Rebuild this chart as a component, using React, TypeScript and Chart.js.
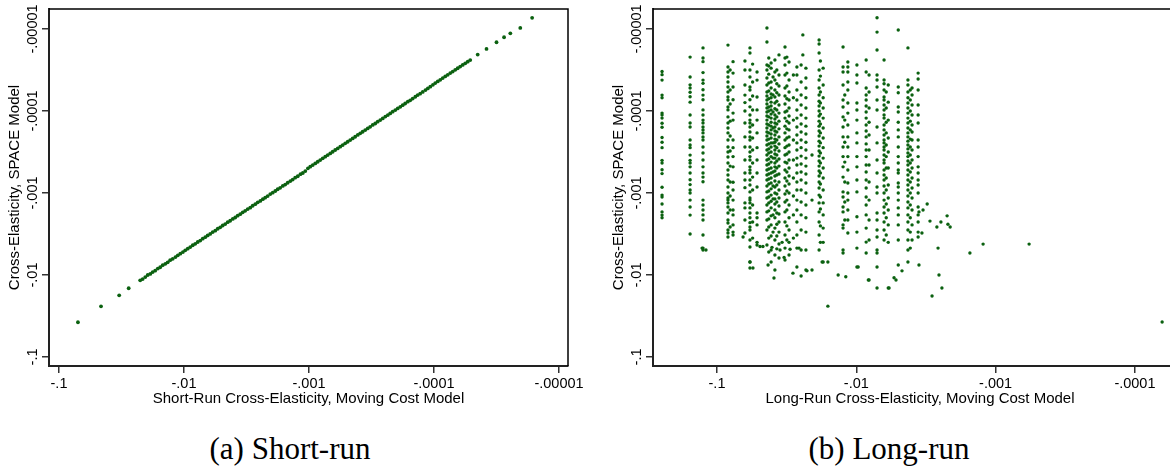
import React, { useEffect, useRef } from 'react';
import { Chart, registerables } from 'chart.js';

Chart.register(...registerables);

// ---------- text ----------
const tickValues = [-0.1, -0.01, -0.001, -0.0001, -0.00001];
const tickLabels = ['-.1', '-.01', '-.001', '-.0001', '-.00001'];
const yTitle = 'Cross-Elasticity, SPACE Model';
const srTitle = 'Short-Run Cross-Elasticity, Moving Cost Model';
const lrTitle = 'Long-Run Cross-Elasticity, Moving Cost Model';
const captions = ['(a) Short-run', '(b) Long-run'];

// ---------- axis ranges ----------
const srXRange = [-0.1202, -8.47e-6];
const lrXRange = [-0.288, -4.23e-5];
const yRange = [-0.1288, -5.7e-6];

// ---------- (a) short-run ----------
const srX = [
  -7.05e-2, -4.61e-2, -3.30e-2, -2.77e-2,
  -2.24e-2, -2.14e-2, -2.04e-2, -1.95e-2, -1.86e-2, -1.78e-2, -1.70e-2, -1.62e-2, -1.55e-2, -1.48e-2,
  -1.41e-2, -1.35e-2, -1.29e-2, -1.23e-2, -1.17e-2, -1.12e-2, -1.07e-2, -1.02e-2,
  -9.77e-3, -9.33e-3, -8.91e-3, -8.51e-3, -8.13e-3, -7.76e-3, -7.41e-3, -7.08e-3, -6.76e-3, -6.46e-3,
  -6.17e-3, -5.89e-3, -5.62e-3, -5.37e-3, -5.13e-3, -4.90e-3, -4.68e-3, -4.47e-3, -4.27e-3, -4.07e-3,
  -3.89e-3, -3.72e-3, -3.55e-3, -3.39e-3, -3.24e-3, -3.09e-3, -2.95e-3, -2.82e-3, -2.69e-3, -2.57e-3,
  -2.45e-3, -2.34e-3, -2.24e-3, -2.14e-3, -2.04e-3, -1.95e-3, -1.86e-3, -1.78e-3, -1.70e-3, -1.62e-3,
  -1.55e-3, -1.48e-3, -1.41e-3, -1.35e-3, -1.29e-3, -1.23e-3, -1.17e-3, -1.12e-3, -1.07e-3, -1.02e-3,
  -9.77e-4, -9.33e-4, -8.91e-4, -8.51e-4, -8.13e-4, -7.76e-4, -7.41e-4, -7.08e-4, -6.76e-4, -6.46e-4,
  -6.17e-4, -5.89e-4, -5.62e-4, -5.37e-4, -5.13e-4, -4.90e-4, -4.68e-4, -4.47e-4, -4.27e-4, -4.07e-4,
  -3.89e-4, -3.72e-4, -3.55e-4, -3.39e-4, -3.24e-4, -3.09e-4, -2.95e-4, -2.82e-4, -2.69e-4, -2.57e-4,
  -2.45e-4, -2.34e-4, -2.24e-4, -2.14e-4, -2.04e-4, -1.95e-4, -1.86e-4, -1.78e-4, -1.70e-4, -1.62e-4,
  -1.55e-4, -1.48e-4, -1.41e-4, -1.35e-4, -1.29e-4, -1.23e-4, -1.17e-4, -1.12e-4, -1.07e-4, -1.02e-4,
  -9.77e-5, -9.33e-5, -8.91e-5, -8.51e-5, -8.13e-5, -7.76e-5, -7.41e-5, -7.08e-5, -6.76e-5, -6.46e-5,
  -6.17e-5, -5.89e-5, -5.62e-5, -5.37e-5, -5.13e-5,
  -4.47e-5, -3.80e-5, -3.16e-5, -2.75e-5, -2.45e-5, -2.04e-5, -1.64e-5,
];
const srY = [
  -3.77e-2, -2.41e-2, -1.77e-2, -1.45e-2,
  -1.16e-2, -1.12e-2, -1.06e-2, -1.00e-2, -9.7e-3, -9.2e-3, -8.85e-3, -8.35e-3, -8.05e-3, -7.6e-3,
  -7.3e-3, -7.0e-3, -6.6e-3, -6.35e-3, -6.05e-3, -5.75e-3, -5.5e-3, -5.25e-3,
  -5.0e-3, -4.77e-3, -4.57e-3, -4.34e-3, -4.17e-3, -3.96e-3, -3.80e-3, -3.61e-3, -3.46e-3, -3.29e-3,
  -3.16e-3, -3.00e-3, -2.88e-3, -2.73e-3, -2.62e-3, -2.49e-3, -2.39e-3, -2.27e-3, -2.18e-3, -2.07e-3,
  -1.99e-3, -1.89e-3, -1.81e-3, -1.72e-3, -1.65e-3, -1.57e-3, -1.51e-3, -1.43e-3, -1.37e-3, -1.30e-3,
  -1.25e-3, -1.19e-3, -1.14e-3, -1.09e-3, -1.03e-3, -9.9e-4, -9.45e-4, -9.0e-4, -8.65e-4, -8.2e-4,
  -7.9e-4, -7.5e-4, -7.15e-4, -6.85e-4, -6.5e-4, -6.25e-4, -5.9e-4, -5.7e-4, -5.4e-4, -5.0e-4,
  -4.78e-4, -4.57e-4, -4.36e-4, -4.16e-4, -3.97e-4, -3.78e-4, -3.61e-4, -3.45e-4, -3.29e-4, -3.14e-4,
  -2.99e-4, -2.86e-4, -2.72e-4, -2.60e-4, -2.48e-4, -2.37e-4, -2.26e-4, -2.16e-4, -2.06e-4, -1.96e-4,
  -1.87e-4, -1.79e-4, -1.71e-4, -1.63e-4, -1.56e-4, -1.48e-4, -1.42e-4, -1.35e-4, -1.29e-4, -1.23e-4,
  -1.17e-4, -1.12e-4, -1.07e-4, -1.02e-4, -9.75e-5, -9.3e-5, -8.9e-5, -8.5e-5, -8.1e-5, -7.7e-5,
  -7.4e-5, -7.05e-5, -6.7e-5, -6.4e-5, -6.15e-5, -5.85e-5, -5.55e-5, -5.3e-5, -5.05e-5, -4.8e-5,
  -4.57e-5, -4.36e-5, -4.16e-5, -3.97e-5, -3.79e-5, -3.62e-5, -3.45e-5, -3.30e-5, -3.15e-5, -3.01e-5,
  -2.87e-5, -2.74e-5, -2.62e-5, -2.50e-5, -2.39e-5,
  -2.05e-5, -1.75e-5, -1.45e-5, -1.26e-5, -1.13e-5, -9.7e-6, -7.3e-6,
];

// ---------- (b) long-run: vertical groups of points ----------
const lrColX = [
  -0.248, -0.156, -0.126, -0.0834, -0.0767, -0.063, -0.058, -0.0516,
  -0.0438, -0.0409, -0.0384, -0.0359, -0.0325, -0.0304, -0.0267, -0.0249,
  -0.023, -0.0208, -0.0185, -0.0173, -0.01245, -0.0115, -0.0099, -0.0085,
  -0.0081, -0.0071, -0.00632, -0.0059, -0.005, -0.00426, -0.00398, -0.0036,
  -0.0425, -0.0372, -0.0315, -0.0396, -0.0181, -0.0041, -0.0061, -0.0805,
  -0.0555, -0.0283, -0.0121,
];
const lrColY = [
  [-3.3e-5, -3.6e-5, -4.2e-5, -6.4e-5, -6.9e-5, -1.06e-4, -1.12e-4, -1.22e-4, -1.41e-4, -1.58e-4, -2.1e-4, -2.4e-4, -2.8e-4, -4.0e-4, -4.3e-4, -5.2e-4, -5.8e-4, -8.5e-4, -1.06e-3, -1.12e-3, -1.36e-3, -1.7e-3, -1.86e-3, -2.0e-3],
  [-2.2e-5, -3.85e-5, -4.8e-5, -5.25e-5, -5.9e-5, -6.7e-5, -7.8e-5, -1.12e-4, -1.4e-4, -1.57e-4, -2.26e-4, -2.6e-4, -2.8e-4, -3.45e-4, -4.0e-4, -4.3e-4, -4.8e-4, -5.7e-4, -6.9e-4, -7.9e-4, -9.2e-4, -1.0e-3, -1.22e-3, -1.48e-3, -1.86e-3, -3.16e-3],
  [-1.7e-5, -2.26e-5, -2.5e-5, -3.4e-5, -4.2e-5, -4.6e-5, -5.5e-5, -6.4e-5, -7.3e-5, -9.7e-5, -1.12e-4, -1.29e-4, -1.4e-4, -1.57e-4, -1.7e-4, -1.85e-4, -2.07e-4, -2.26e-4, -2.75e-4, -3.25e-4, -3.96e-4, -4.8e-4, -5.7e-4, -6.4e-4, -7.3e-4, -1.22e-3, -1.4e-3, -1.61e-3, -1.85e-3, -2.13e-3, -3.25e-3, -4.7e-3, -4.95e-3],
  [-1.57e-5, -2.9e-5, -3.34e-5, -3.85e-5, -4.43e-5, -5.1e-5, -5.87e-5, -6.75e-5, -7.34e-5, -8.94e-5, -9.7e-5, -1.18e-4, -1.4e-4, -1.61e-4, -1.85e-4, -2.26e-4, -2.75e-4, -3.16e-4, -3.64e-4, -4.31e-4, -5.24e-4, -6.03e-4, -6.94e-4, -8.45e-4, -1.0e-3, -1.15e-3, -1.22e-3, -1.32e-3, -1.48e-3, -1.75e-3, -2.13e-3, -2.32e-3, -2.83e-3, -3.07e-3, -3.44e-3],
  [-2.5e-5, -3.45e-5, -5.1e-5, -7.3e-5, -1.06e-4, -1.29e-4, -2.26e-4, -2.8e-4, -3.6e-4, -4.8e-4, -7.4e-4, -9.2e-4, -1.22e-3, -1.61e-3, -1.85e-3, -2.45e-3, -3.0e-3, -3.25e-3],
  [-2.45e-5, -3.16e-5, -4.82e-5, -6.4e-5, -7.9e-5, -1.0e-4, -1.4e-4, -2.07e-4, -2.75e-4, -3.96e-4, -5.7e-4, -6.94e-4, -8.6e-4, -1.32e-3, -1.52e-3, -2.13e-3, -3.07e-3],
  [-1.7e-5, -1.96e-5, -3.16e-5, -3.85e-5, -5.1e-5, -5.54e-5, -7.3e-5, -8.9e-5, -1.12e-4, -1.29e-4, -1.4e-4, -1.57e-4, -1.8e-4, -2.07e-4, -2.26e-4, -2.75e-4, -3.16e-4, -3.6e-4, -3.96e-4, -4.8e-4, -5.24e-4, -5.7e-4, -6.94e-4, -8.0e-4, -9.7e-4, -1.15e-3, -1.22e-3, -1.32e-3, -1.52e-3, -1.75e-3, -2.0e-3, -2.3e-3, -2.6e-3, -2.83e-3, -3.74e-3, -4.55e-3, -6.95e-3, -8.2e-3],
  [-3.35e-5, -4.2e-5, -6.75e-5, -9.7e-5, -1.29e-4, -1.85e-4, -2.8e-4, -3.96e-4, -5.7e-4, -8.45e-4, -1.75e-3, -2.0e-3, -2.45e-3, -4.0e-3, -4.3e-3],
  [-9.7e-6, -1.44e-5, -2.75e-5, -3.16e-5, -3.95e-5, -4.82e-5, -5.87e-5, -6.55e-5, -7.34e-5, -8.2e-5, -9.2e-5, -1.03e-4, -1.15e-4, -1.29e-4, -1.44e-4, -1.61e-4, -1.8e-4, -2.02e-4, -2.26e-4, -2.6e-4, -2.99e-4, -3.44e-4, -3.96e-4, -4.56e-4, -5.24e-4, -6.03e-4, -6.94e-4, -8.2e-4, -9.7e-4, -1.15e-3, -1.4e-3, -1.7e-3, -2.13e-3, -2.83e-3, -4.31e-3],
  [-2.6e-5, -3.0e-5, -4.43e-5, -5.25e-5, -6.2e-5, -6.9e-5, -7.8e-5, -8.7e-5, -9.7e-5, -1.09e-4, -1.22e-4, -1.37e-4, -1.53e-4, -1.7e-4, -1.91e-4, -2.13e-4, -2.45e-4, -2.75e-4, -3.16e-4, -3.6e-4, -4.2e-4, -4.95e-4, -5.7e-4, -6.55e-4, -7.55e-4, -8.9e-4, -1.06e-3, -1.26e-3, -1.52e-3, -1.9e-3, -2.45e-3, -3.35e-3, -4.96e-3, -6.95e-3],
  [-2.39e-5, -3.35e-5, -4.19e-5, -5.54e-5, -6.75e-5, -8.0e-5, -9.4e-5, -1.12e-4, -1.25e-4, -1.4e-4, -1.57e-4, -1.75e-4, -1.96e-4, -2.2e-4, -2.4e-4, -2.68e-4, -2.99e-4, -3.35e-4, -3.75e-4, -4.31e-4, -4.8e-4, -5.4e-4, -6.2e-4, -7.15e-4, -8.45e-4, -1.0e-3, -1.18e-3, -1.36e-3, -1.61e-3, -2.0e-3, -2.68e-3, -3.74e-3, -5.71e-3, -8.7e-3],
  [-2.07e-5, -3.64e-5, -4.95e-5, -6.38e-5, -8.45e-5, -1.06e-4, -1.33e-4, -1.65e-4, -2.07e-4, -2.52e-4, -3.07e-4, -3.85e-4, -4.7e-4, -5.87e-4, -7.34e-4, -9.19e-4, -1.15e-3, -1.44e-3, -1.8e-3, -2.26e-3, -3.0e-3, -4.19e-3, -6.2e-3],
  [-1.66e-5, -2.26e-5, -2.75e-5, -3.64e-5, -5.25e-5, -6.55e-5, -8.2e-5, -1.03e-4, -1.22e-4, -1.53e-4, -1.85e-4, -2.26e-4, -2.8e-4, -3.44e-4, -4.2e-4, -5.24e-4, -6.55e-4, -8.2e-4, -1.03e-3, -1.29e-3, -1.7e-3, -2.26e-3, -3.25e-3, -4.7e-3, -6.57e-3],
  [-2.52e-5, -4.19e-5, -5.87e-5, -7.34e-5, -9.2e-5, -1.15e-4, -1.4e-4, -1.7e-4, -2.07e-4, -2.6e-4, -3.16e-4, -3.96e-4, -4.95e-4, -6.2e-4, -7.75e-4, -1.0e-3, -1.4e-3, -2.0e-3, -2.83e-3, -4.0e-3, -5.71e-3],
  [-2.9e-5, -3.64e-5, -5.54e-5, -7.34e-5, -9.72e-5, -1.22e-4, -1.57e-4, -1.96e-4, -2.45e-4, -2.99e-4, -3.75e-4, -4.56e-4, -5.7e-4, -7.34e-4, -9.19e-4, -1.22e-3, -1.61e-3, -2.26e-3, -3.25e-3, -4.7e-3, -8.0e-3],
  [-2.75e-5, -4.43e-5, -6.38e-5, -8.45e-5, -1.12e-4, -1.44e-4, -1.8e-4, -2.26e-4, -2.8e-4, -3.55e-4, -4.43e-4, -5.55e-4, -6.94e-4, -9.19e-4, -1.29e-3, -1.85e-3, -2.83e-3, -4.96e-3, -1.03e-2],
  [-3.0e-5, -3.95e-5, -5.25e-5, -6.9e-5, -9.2e-5, -1.22e-4, -1.53e-4, -1.91e-4, -2.4e-4, -2.99e-4, -3.75e-4, -4.7e-4, -5.87e-4, -7.55e-4, -1.0e-3, -1.4e-3, -2.0e-3, -3.0e-3, -4.96e-3, -8.7e-3],
  [-3.44e-4, -1.22e-3, -8.7e-3],
  [-1.36e-5, -1.52e-5, -1.96e-5, -3.16e-5, -4.19e-5, -5.25e-5, -6.38e-5, -7.6e-5, -8.7e-5, -1.0e-4, -1.15e-4, -1.33e-4, -1.53e-4, -1.75e-4, -2.02e-4, -2.33e-4, -2.68e-4, -3.07e-4, -3.55e-4, -4.07e-4, -4.7e-4, -5.4e-4, -6.2e-4, -7.34e-4, -8.7e-4, -1.06e-3, -1.32e-3, -1.7e-3, -2.26e-3, -3.25e-3, -4.96e-3],
  [-3.0e-5, -4.82e-5, -6.9e-5, -9.2e-5, -1.22e-4, -1.61e-4, -2.13e-4, -2.8e-4, -3.75e-4, -4.95e-4, -6.55e-4, -9.19e-4, -1.32e-3, -1.85e-3, -2.68e-3, -4.0e-3, -6.95e-3],
  [-1.66e-5, -2.9e-5, -3.35e-5, -4.82e-5, -7.34e-5, -8.95e-5, -1.18e-4, -1.57e-4, -2.07e-4, -2.75e-4, -3.6e-4, -4.8e-4, -6.4e-4, -9.7e-4, -1.12e-3, -1.48e-3, -1.7e-3, -2.45e-3, -2.68e-3, -4.96e-3, -5.4e-3],
  [-2.52e-5, -2.9e-5, -3.35e-5, -4.43e-5, -5.54e-5, -8.0e-5, -1.06e-4, -1.48e-4, -2.07e-4, -2.75e-4, -3.6e-4, -5.24e-4, -7.55e-4, -1.0e-3, -1.22e-3, -1.61e-3, -2.13e-3, -3.07e-3],
  [-2.75e-5, -3.64e-5, -4.55e-5, -8.0e-5, -9.72e-5, -1.29e-4, -1.85e-4, -2.45e-4, -3.6e-4, -4.8e-4, -6.94e-4, -9.7e-4, -1.95e-3, -3.0e-3, -4.7e-3, -8.0e-3],
  [-2.39e-5, -3.35e-5, -5.25e-5, -6.38e-5, -7.34e-5, -8.7e-5, -1.03e-4, -1.22e-4, -1.48e-4, -1.75e-4, -2.07e-4, -2.52e-4, -2.99e-4, -3.6e-4, -4.56e-4, -5.55e-4, -6.94e-4, -8.7e-4, -1.12e-3, -1.4e-3, -1.85e-3, -2.68e-3, -3.97e-3, -5.4e-3],
  [-3.64e-5, -5.87e-5, -9.2e-5, -1.37e-4, -1.96e-4, -2.99e-4, -4.56e-4, -7.34e-4, -1.22e-3, -2.13e-3, -3.74e-3, -1.15e-2],
  [-7.3e-6, -1.09e-5, -1.8e-5, -3.64e-5, -4.19e-5, -5.1e-5, -7.34e-5, -9.72e-5, -1.57e-4, -2.45e-4, -3.96e-4, -5.7e-4, -8.45e-4, -1.0e-3, -1.75e-3, -2.13e-3, -2.83e-3, -3.44e-3, -4.96e-3, -5.4e-3, -8.0e-3, -1.44e-2],
  [-2.39e-5, -4.19e-5, -4.65e-5, -5.54e-5, -6.75e-5, -7.34e-5, -8.45e-5, -9.72e-5, -1.12e-4, -1.22e-4, -1.48e-4, -1.7e-4, -1.96e-4, -2.26e-4, -2.45e-4, -2.75e-4, -2.99e-4, -3.44e-4, -3.96e-4, -4.31e-4, -5.24e-4, -6.03e-4, -6.94e-4, -8.2e-4, -1.0e-3, -1.22e-3, -1.48e-3, -1.75e-3, -2.26e-3, -2.83e-3, -3.74e-3],
  [-4.82e-5, -7.8e-5, -1.29e-4, -2.13e-4, -3.16e-4, -4.95e-4, -8.0e-4, -1.15e-3, -1.61e-3, -2.45e-3, -4.0e-3, -1.44e-2],
  [-1.03e-5, -5.1e-5, -6.0e-5, -8.95e-5, -1.03e-4, -1.37e-4, -1.7e-4, -2.07e-4, -2.75e-4, -3.6e-4, -4.31e-4, -5.24e-4, -5.7e-4, -7.55e-4, -8.45e-4, -1.0e-3, -1.22e-3, -1.52e-3, -1.85e-3, -2.45e-3, -3.74e-3, -7.56e-3],
  [-1.7e-5, -4.19e-5, -4.82e-5, -5.87e-5, -6.9e-5, -8.0e-5, -9.2e-5, -1.06e-4, -1.22e-4, -1.4e-4, -1.61e-4, -1.85e-4, -2.07e-4, -2.33e-4, -2.6e-4, -2.9e-4, -3.25e-4, -3.6e-4, -4.07e-4, -4.56e-4, -5.24e-4, -6.03e-4, -6.94e-4, -8.0e-4, -9.19e-4, -1.09e-3, -1.29e-3, -1.52e-3, -1.85e-3, -2.26e-3, -2.83e-3, -3.74e-3, -4.96e-3, -6.95e-3],
  [-5.25e-5, -6.38e-5, -8.45e-5, -1.12e-4, -1.48e-4, -1.8e-4, -2.26e-4, -2.99e-4, -3.96e-4, -4.95e-4, -6.55e-4, -8.7e-4, -1.15e-3, -1.61e-3, -2.45e-3, -3.74e-3],
  [-3.45e-5, -4.07e-5, -5.54e-5, -8.45e-5, -1.12e-4, -1.4e-4, -2.26e-4, -2.75e-4, -3.6e-4, -4.8e-4, -5.7e-4, -6.94e-4, -8.0e-4, -1.0e-3, -1.48e-3, -1.85e-3, -2.26e-3, -3.0e-3, -3.44e-3],
  // added groups
  [-2.26e-5, -2.82e-5, -3.55e-5, -4.55e-5, -5.7e-5, -7.1e-5, -8.95e-5, -1.0e-4, -1.18e-4, -1.48e-4, -1.85e-4, -2.2e-4, -2.52e-4, -2.9e-4, -3.25e-4, -3.85e-4, -4.43e-4, -5.1e-4, -5.87e-4, -6.75e-4, -7.75e-4, -9.45e-4, -1.12e-3, -1.32e-3, -1.65e-3, -2.07e-3, -2.6e-3, -3.55e-3, -5.25e-3],
  [-3.16e-5, -4.65e-5, -6.0e-5, -7.6e-5, -9.72e-5, -1.18e-4, -1.44e-4, -1.8e-4, -2.26e-4, -2.8e-4, -3.44e-4, -4.07e-4, -4.95e-4, -6.03e-4, -8.0e-4, -1.03e-3, -1.29e-3, -1.75e-3, -2.4e-3, -3.35e-3, -4.8e-3],
  [-2.2e-5, -3.45e-5, -4.95e-5, -7.1e-5, -1.0e-4, -1.33e-4, -1.65e-4, -2.13e-4, -2.68e-4, -3.35e-4, -4.31e-4, -5.55e-4, -7.15e-4, -9.45e-4, -1.22e-3, -1.61e-3, -2.52e-3, -3.74e-3],
  [-3.85e-5, -6.38e-5, -1.03e-4, -1.61e-4, -2.45e-4, -3.75e-4, -5.55e-4, -8.2e-4, -1.18e-3, -1.85e-3, -3.0e-3],
  [-2.45e-5, -3.75e-5, -5.87e-5, -8.0e-5, -1.09e-4, -1.44e-4, -1.85e-4, -2.45e-4, -3.25e-4, -4.31e-4, -5.7e-4, -7.75e-4, -1.12e-3, -1.57e-3, -2.52e-3, -4.0e-3],
  [-5.54e-5, -7.34e-5, -1.0e-4, -1.33e-4, -1.7e-4, -2.2e-4, -2.75e-4, -3.44e-4, -4.31e-4, -5.55e-4, -7.34e-4, -1.0e-3, -1.4e-3, -2.0e-3, -3.0e-3, -4.7e-3],
  [-5.87e-5, -9.2e-5, -1.37e-4, -1.85e-4, -2.6e-4, -3.6e-4, -4.95e-4, -6.55e-4, -9.19e-4, -1.36e-3, -2.0e-3, -3.25e-3],
  [-3.16e-5, -5.54e-5, -8.2e-5, -1.33e-4, -2.02e-4, -3.07e-4, -4.7e-4, -7.34e-4, -1.09e-3, -1.61e-3, -2.6e-3],
  [-2.68e-5, -4.43e-5, -6.55e-5, -9.72e-5, -1.48e-4, -2.13e-4, -2.99e-4, -4.31e-4, -6.4e-4, -9.19e-4, -1.4e-3, -2.26e-3, -3.55e-3],
  [-3.64e-5, -6.9e-5, -1.29e-4, -2.26e-4, -3.96e-4, -6.55e-4, -1.09e-3, -1.85e-3, -3.55e-3],
  [-6.38e-5, -1.29e-4, -2.4e-4, -4.2e-4, -7.34e-4, -1.29e-3, -2.13e-3],
];
// scattered points outside the vertical groups
const lrExtraX = [
  -0.00296, -0.00264, -0.00247, -0.00223, -0.0022, -0.00212, -0.00259, -0.00255, -0.00243, -0.00286,
  -0.0047, -0.00536, -0.00519, -0.00582, -0.00355, -0.00338, -0.00153, -0.00123, -0.000575, -0.0000638,
  -0.0031, -0.00332, -0.00355,
  -0.128, -0.12, -0.065, -0.058, -0.0552, -0.0491, -0.0468, -0.043, -0.0403, -0.039,
  -0.0353, -0.0341, -0.033, -0.0299, -0.0285, -0.0258, -0.0226, -0.0176, -0.016, -0.016,
  -0.0135, -0.0119, -0.0097, -0.0082, -0.0242, -0.0242,
];
const lrExtraY = [
  -2.2e-3, -2.6e-3, -2.26e-3, -1.9e-3, -2.4e-3, -2.6e-3, -4.7e-3, -1.0e-2, -1.44e-2, -1.8e-2,
  -8.9e-3, -1.08e-2, -1.15e-2, -1.44e-2, -7.56e-3, -3.07e-3, -5.4e-3, -4.2e-3, -4.2e-3, -3.74e-2,
  -1.36e-3, -1.61e-3, -1.7e-3,
  -4.7e-3, -4.96e-3, -3.44e-3, -6.95e-3, -8.2e-3, -4.5e-3, -4.5e-3, -7.56e-3, -4.6e-3, -1.09e-2,
  -4.96e-3, -4.0e-3, -6.1e-3, -4.85e-3, -9.5e-3, -4.7e-3, -8.9e-3, -6.95e-3, -6.95e-3, -2.4e-2,
  -1.0e-2, -1.05e-2, -8.0e-3, -1.15e-2, -1.18e-5, -2.07e-5,
];

// ---------- styles ----------
const POINT_COLOR = '#0b6110';
const SANS = '"Liberation Sans", Arial, sans-serif';
const SERIF = '"Liberation Serif", "Times New Roman", serif';
const CANVAS_H = 415;

function pairs(xs: number[], ys: number[]) {
  const n = Math.min(xs.length, ys.length);
  const out: { x: number; y: number }[] = [];
  for (let i = 0; i < n; i++) out.push({ x: Math.abs(xs[i]), y: Math.abs(ys[i]) });
  return out;
}

function labelFor(v: number) {
  for (let i = 0; i < tickValues.length; i++) {
    const t = Math.abs(tickValues[i]);
    if (Math.abs(v - t) / t < 1e-6) return tickLabels[i];
  }
  return '';
}

function makeConfig(points: { x: number; y: number }[], xRange: number[], xTitle: string, yAxisWidth: number, radius: number): any {
  const decor = {
    id: 'decor',
    afterDraw(chart: any) {
      const { ctx, chartArea: a, scales } = chart;
      ctx.save();
      ctx.strokeStyle = '#000';
      ctx.lineWidth = 1.5;
      ctx.beginPath();
      ctx.moveTo(a.left, a.top);
      ctx.lineTo(a.right, a.top);
      ctx.lineTo(a.right, a.bottom);
      ctx.stroke();
      ctx.fillStyle = '#000';
      ctx.font = `14.5px ${SANS}`;
      ctx.textAlign = 'center';
      ctx.textBaseline = 'alphabetic';
      tickValues.forEach((tv, i) => {
        const py = scales.y.getPixelForValue(Math.abs(tv));
        ctx.save();
        ctx.translate(a.left - 12, py);
        ctx.rotate(-Math.PI / 2);
        ctx.fillText(tickLabels[i], 0, 0);
        ctx.restore();
      });
      ctx.font = `15px ${SANS}`;
      ctx.textBaseline = 'middle';
      ctx.save();
      ctx.translate(a.left - 34, (a.top + a.bottom) / 2);
      ctx.rotate(-Math.PI / 2);
      ctx.fillText(yTitle, 0, 0);
      ctx.restore();
      ctx.fillText(xTitle, (a.left + a.right) / 2, a.bottom + 33);
      ctx.restore();
    },
  };

  return {
    type: 'scatter',
    data: {
      datasets: [
        {
          data: points,
          pointRadius: radius,
          pointHoverRadius: radius,
          pointBorderWidth: 0,
          pointBackgroundColor: POINT_COLOR,
          backgroundColor: POINT_COLOR,
          borderColor: POINT_COLOR,
          showLine: false,
        },
      ],
    },
    options: {
      responsive: false,
      animation: false,
      events: [],
      layout: { padding: { top: 9, right: 0, left: 0, bottom: 0 } },
      plugins: { legend: { display: false }, tooltip: { enabled: false }, title: { display: false } },
      scales: {
        x: {
          type: 'logarithmic',
          reverse: true,
          min: Math.abs(xRange[1]),
          max: Math.abs(xRange[0]),
          afterBuildTicks: (s: any) => {
            s.ticks = tickValues.map((v) => ({ value: Math.abs(v) }));
          },
          afterFit: (s: any) => {
            s.height = CANVAS_H - 366;
            s.paddingLeft = 0;
            s.paddingRight = 0;
          },
          ticks: {
            autoSkip: false,
            maxRotation: 0,
            minRotation: 0,
            padding: 2,
            color: '#000',
            font: { family: SANS, size: 14.5 },
            callback: (v: number) => labelFor(v),
          },
          grid: { display: true, drawOnChartArea: false, drawTicks: true, tickLength: 7, color: '#333', lineWidth: 1.5 },
          border: { display: true, color: '#222', width: 2 },
          title: { display: false },
        },
        y: {
          type: 'logarithmic',
          reverse: true,
          min: Math.abs(yRange[1]),
          max: Math.abs(yRange[0]),
          afterBuildTicks: (s: any) => {
            s.ticks = tickValues.map((v) => ({ value: Math.abs(v) }));
          },
          afterFit: (s: any) => {
            s.width = yAxisWidth;
            s.paddingTop = 0;
            s.paddingBottom = 0;
          },
          ticks: { display: false },
          grid: { display: true, drawOnChartArea: false, drawTicks: true, tickLength: 7, color: '#333', lineWidth: 1.5 },
          border: { display: true, color: '#222', width: 2 },
          title: { display: false },
        },
      },
    },
    plugins: [decor],
  };
}

function Panel(props: { left: number; width: number; points: { x: number; y: number }[]; xRange: number[]; xTitle: string; yAxisWidth: number; padRight: number; radius: number }) {
  const ref = useRef<HTMLCanvasElement | null>(null);
  useEffect(() => {
    if (!ref.current) return;
    const cfg = makeConfig(props.points, props.xRange, props.xTitle, props.yAxisWidth, props.radius);
    cfg.options.layout.padding.right = props.padRight;
    const chart = new Chart(ref.current, cfg);
    return () => chart.destroy();
  }, []);
  return (
    <canvas
      ref={ref}
      width={props.width}
      height={CANVAS_H}
      style={{ position: 'absolute', left: props.left, top: 0, width: props.width, height: CANVAS_H }}
    />
  );
}

export default function App() {
  const srPoints = pairs(srX, srY);
  const lrPoints: { x: number; y: number }[] = [];
  lrColX.forEach((cx, i) => {
    (lrColY[i] || []).forEach((cy) => lrPoints.push({ x: Math.abs(cx), y: Math.abs(cy) }));
  });
  pairs(lrExtraX, lrExtraY).forEach((p) => lrPoints.push(p));

  const capStyle: React.CSSProperties = {
    position: 'absolute',
    top: 432,
    width: 400,
    textAlign: 'center',
    fontFamily: SERIF,
    fontSize: 31,
    lineHeight: '34px',
    color: '#000',
    whiteSpace: 'nowrap',
  };

  return (
    <div style={{ position: 'fixed', left: 0, top: 0, width: 1170, height: 473, overflow: 'hidden', background: '#fff' }}>
      <Panel left={0} width={585} points={srPoints} xRange={srXRange} xTitle={srTitle} yAxisWidth={49} padRight={17} radius={1.9} />
      <Panel left={585} width={619} points={lrPoints} xRange={lrXRange} xTitle={lrTitle} yAxisWidth={68} padRight={17} radius={1.7} />
      <div style={{ ...capStyle, left: 290 - 200 }}>{captions[0]}</div>
      <div style={{ ...capStyle, left: 889 - 200 }}>{captions[1]}</div>
    </div>
  );
}
